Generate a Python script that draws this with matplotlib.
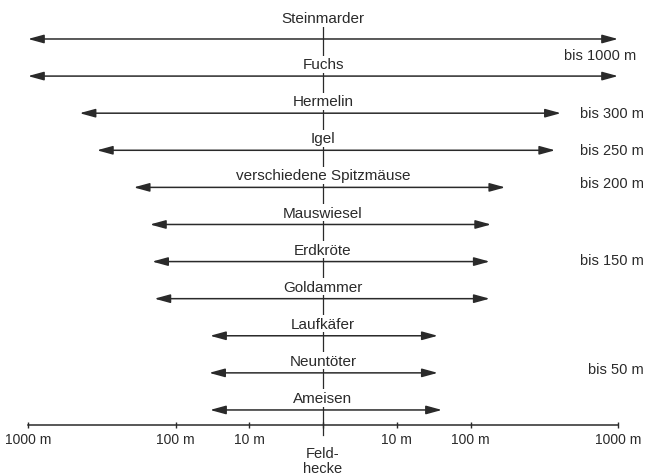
import matplotlib
matplotlib.use("Agg")
import matplotlib.pyplot as plt
import numpy as np

plt.rcParams['font.family'] = ['Liberation Sans', 'DejaVu Sans']

# species, reach to the left and right of the hedge (metres)
species = ["Steinmarder", "Fuchs", "Hermelin", "Igel", "verschiedene Spitzmäuse",
           "Mauswiesel", "Erdkröte", "Goldammer", "Laufkäfer", "Neuntöter", "Ameisen"]
left_m = [1000, 1000, 447, 341, 192, 149, 144, 139, 34, 35, 34]
right_m = [1000, 1000, 410, 375, 172, 138, 135, 135, 36, 36, 41]

# "bis ..." notes on the right, with the row they sit at
range_notes = ["bis 1000 m", "bis 300 m", "bis 250 m", "bis 200 m", "bis 150 m", "bis 50 m"]
note_rows = [0.43, 2.0, 3.0, 3.88, 5.95, 8.9]
note_x = [564, 580, 580, 580, 580, 588]

tick_m = [-1000, -100, -10, 0, 10, 100, 1000]
tick_labels = ["1000 m", "100 m", "10 m", "", "10 m", "100 m", "1000 m"]

INK = "#2a2a2a"


def fwd(x):
    # schematic distance scale: linear up to 10 m, then log with a wide last decade
    x = np.asarray(x, dtype=float)
    a = np.abs(x)
    u = np.where(a <= 10, a / 10.0,
                 np.interp(np.log10(np.maximum(a, 10)), [1, 2, 3, 5], [1, 2, 4, 8]))
    return np.sign(x) * u


def inv(u):
    u = np.asarray(u, dtype=float)
    a = np.abs(u)
    x = np.where(a <= 1, a * 10.0,
                 10 ** np.interp(np.maximum(a, 1), [1, 2, 4, 8], [1, 2, 3, 5]))
    return np.sign(u) * x


fig = plt.figure(figsize=(6.48, 4.77), dpi=100)
ax = fig.add_axes([28 / 648, 0, 590 / 648, 1])
ax.set_xscale('function', functions=(fwd, inv))
ax.set_xlim(-1000, 1000)
ax.set_ylim(11.78, -1.078)

# center line (the hedge)
ax.plot([0, 0], [-0.32, 10.67], color=INK, lw=0.9, zorder=1)

for i, name in enumerate(species):
    ax.annotate("", xy=(right_m[i], i), xytext=(-left_m[i], i),
                arrowprops=dict(arrowstyle="<|-|>,head_length=0.95,head_width=0.26",
                                mutation_scale=10, color=INK, lw=1.1,
                                shrinkA=0, shrinkB=0), zorder=2)
    off = 15 if i == 0 else 8.6
    ax.annotate(name, xy=(0, i), xytext=(0, off), textcoords='offset points',
                ha='center', va='center', fontsize=11, color=INK, zorder=3,
                bbox=dict(boxstyle='square,pad=0.1', fc='white', ec='none'))

tr = matplotlib.transforms.blended_transform_factory(fig.transFigure, ax.transData)
for txt, r, xp in zip(range_notes, note_rows, note_x):
    ax.text(xp / 648, r, txt, transform=tr, ha='left', va='center',
            fontsize=10.5, color=INK, clip_on=False)

# bottom distance axis
for s in ['top', 'left', 'right']:
    ax.spines[s].set_visible(False)
ax.spines['bottom'].set_position(('data', 10.4))
ax.spines['bottom'].set_color(INK)
ax.spines['bottom'].set_linewidth(1.1)
ax.set_yticks([])
ax.set_xticks(tick_m)
ax.set_xticklabels(tick_labels)
ax.xaxis.set_minor_locator(matplotlib.ticker.NullLocator())
ax.tick_params(axis='x', direction='inout', length=5, width=1, color=INK,
               labelsize=10, labelcolor=INK, pad=3)

ax.text(0, 11.37, "Feld-\nhecke", ha='center', va='center', fontsize=10.5,
        color=INK, linespacing=1.1)

fig.savefig("out.png", dpi=100)
